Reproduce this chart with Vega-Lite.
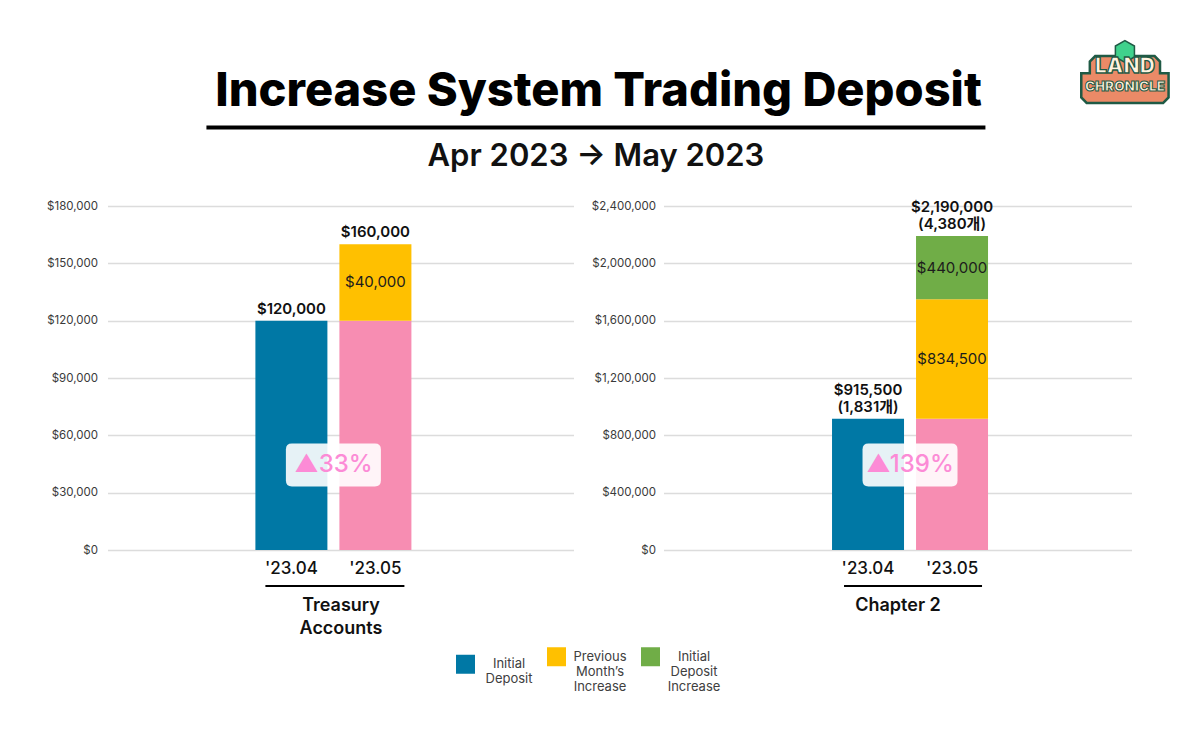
{
  "$schema": "https://vega.github.io/schema/vega-lite/v6.json",
  "background": "#ffffff",
  "padding": {"left": 46, "top": 37, "right": 10, "bottom": 10},
  "config": {
    "font": "Inter, 'Noto Sans CJK KR', sans-serif",
    "view": {"stroke": null},
    "axis": {"labelFont": "Inter, 'Noto Sans CJK KR', sans-serif", "titleFont": "Inter, sans-serif"},
    "legend": {"labelFont": "Inter, sans-serif"},
    "text": {"font": "Inter, 'Noto Sans CJK KR', sans-serif"}
  },
  "datasets": {
    "segments": [
      {"panel": "Treasury", "month": "'23.04", "part": "Initial Deposit", "rank": 1, "value": 120000},
      {"panel": "Treasury", "month": "'23.05", "part": "Carried Deposit", "rank": 1, "value": 120000},
      {"panel": "Treasury", "month": "'23.05", "part": "Previous Month’s Increase", "rank": 2, "value": 40000},
      {"panel": "Chapter 2", "month": "'23.04", "part": "Initial Deposit", "rank": 1, "value": 915500},
      {"panel": "Chapter 2", "month": "'23.05", "part": "Carried Deposit", "rank": 1, "value": 915500},
      {"panel": "Chapter 2", "month": "'23.05", "part": "Previous Month’s Increase", "rank": 2, "value": 834500},
      {"panel": "Chapter 2", "month": "'23.05", "part": "Initial Deposit Increase", "rank": 3, "value": 440000}
    ],
    "totals": [
      {"panel": "Treasury", "month": "'23.04", "total": 120000, "units": null},
      {"panel": "Treasury", "month": "'23.05", "total": 160000, "units": null},
      {"panel": "Chapter 2", "month": "'23.04", "total": 915500, "units": 1831},
      {"panel": "Chapter 2", "month": "'23.05", "total": 2190000, "units": 4380}
    ],
    "growth": [
      {"panel": "Treasury", "from": "'23.04", "to": "'23.05", "growth": 0.33},
      {"panel": "Chapter 2", "from": "'23.04", "to": "'23.05", "growth": 1.39}
    ]
  },
  "spacing": 29,
  "center": true,
  "vconcat": [
    {
      "width": 1104,
      "height": 1,
      "layer": [
        {
          "data": {"values": [{"edge": 0}]},
          "mark": {"type": "rule", "opacity": 0},
          "encoding": {
            "x": {
              "field": "edge", "type": "quantitative", "scale": {"domain": [0, 1], "range": [140.5, 919.5]},
              "axis": {"domain": true, "domainColor": "#000000", "domainWidth": 4, "labels": false, "ticks": false, "grid": false,
                       "title": "Apr 2023 → May 2023", "titleFontSize": 31, "titleFontWeight": 600, "titleColor": "#111111", "titlePadding": 14}
            }
          }
        },
        {
          "data": {"values": [{}]},
          "mark": {"type": "text", "text": "Increase System Trading Deposit", "fontSize": 47, "fontWeight": 800, "color": "#000000", "baseline": "alphabetic", "yOffset": -21},
          "encoding": {"x": {"datum": 0.504, "type": "quantitative"}}
        },
        {
          "data": {"values": [{}]},
          "mark": {"type": "point", "shape": "M-0.66,-0.52L0.66,-0.52L0.78,-0.4L0.78,-0.14L0.97,-0.14L0.97,0.4L0.85,0.52L-0.85,0.52L-0.97,0.4L-0.97,-0.14L-0.78,-0.14L-0.78,-0.4Z",
                   "size": 8100, "filled": true, "fill": "#eb8a67", "stroke": "#1f5a45", "strokeWidth": 2.5, "opacity": 1, "yOffset": -47},
          "encoding": {"x": {"datum": 1.1797, "type": "quantitative"}}
        },
        {
          "data": {"values": [{}]},
          "mark": {"type": "point", "shape": "M0,-1L0.87,-0.5L0.87,0.5L0,1L-0.87,0.5L-0.87,-0.5Z",
                   "size": 480, "filled": true, "fill": "#3fd18c", "stroke": "#1f5a45", "strokeWidth": 1.5, "opacity": 1, "yOffset": -75},
          "encoding": {"x": {"datum": 1.1797, "type": "quantitative"}}
        },
        {
          "data": {"values": [{}]},
          "mark": {"type": "text", "text": "LAND", "fontSize": 21, "fontWeight": 900, "fill": "#fff3e0", "stroke": "#1f5a45", "strokeWidth": 1.3, "baseline": "middle", "yOffset": -60},
          "encoding": {"x": {"datum": 1.1797, "type": "quantitative"}}
        },
        {
          "data": {"values": [{}]},
          "mark": {"type": "text", "text": "CHRONICLE", "fontSize": 13.5, "fontWeight": 900, "fill": "#fff3e0", "stroke": "#1f5a45", "strokeWidth": 1, "baseline": "middle", "yOffset": -39.5},
          "encoding": {"x": {"datum": 1.1797, "type": "quantitative"}}
        }
      ]
    },
    {
      "spacing": 17,
      "hconcat": [
        {
          "width": 466,
          "height": 344,
          "layer": [
            {
              "data": {"name": "segments"},
              "transform": [
                {"filter": "datum.panel === 'Treasury'"},
                {"stack": "value", "groupby": ["month"], "sort": [{"field": "rank", "order": "ascending"}], "as": ["v0", "v1"]}
              ],
              "mark": {"type": "bar"},
              "encoding": {
                "x": {
                  "field": "month", "type": "nominal", "sort": null,
                  "scale": {"domain": ["", "'23.04", "'23.05", " "], "paddingInner": 0.1429, "paddingOuter": 0.845, "align": 0.45},
                  "axis": {"title": ["Treasury", "Accounts"], "domain": false, "ticks": false, "labelAngle": 0, "labelFontSize": 17, "labelFontWeight": 500, "labelColor": "#111111", "labelPadding": 10,
                           "titleFontSize": 18, "titleFontWeight": 600, "titleColor": "#111111", "titlePadding": 20, "titleLineHeight": 23}
                },
                "y": {
                  "field": "v1", "type": "quantitative",
                  "scale": {"domain": [0, 180000], "nice": false},
                  "axis": {"title": null, "values": [0, 30000, 60000, 90000, 120000, 150000, 180000], "format": "$,.0f", "domain": false, "ticks": false,
                           "labelFontSize": 11.5, "labelColor": "#3a3a3a", "labelPadding": 10, "gridColor": "#dcdcdc", "gridWidth": 1.5}
                },
                "y2": {"field": "v0"},
                "color": {
                  "field": "part", "type": "nominal",
                  "scale": {"domain": ["Initial Deposit", "Previous Month’s Increase", "Initial Deposit Increase", "Carried Deposit"], "range": ["#0078a5", "#ffc000", "#70ad47", "#f78db2"]},
                  "legend": {"title": null, "orient": "none", "legendX": 391, "legendY": 521, "direction": "horizontal",
                             "values": ["Initial Deposit", "Previous Month’s Increase", "Initial Deposit Increase"],
                             "symbolType": "square", "symbolSize": 361, "symbolStrokeWidth": 0, "symbolOpacity": 1,
                             "labelExpr": "split(datum.label, ' ')", "labelAlign": "center", "labelOffset": 34, "labelFontSize": 13, "labelColor": "#404040", "labelLimit": 0, "columnPadding": 14}
                }
              }
            },
            {
              "data": {"name": "segments"},
              "transform": [
                {"filter": "datum.panel === 'Treasury'"},
                {"stack": "value", "groupby": ["month"], "sort": [{"field": "rank", "order": "ascending"}], "as": ["v0", "v1"]},
                {"filter": "datum.rank > 1"},
                {"calculate": "(datum.v0 + datum.v1) / 2", "as": "mid"}
              ],
              "mark": {"type": "text", "fontSize": 15, "color": "#1c1c1c", "baseline": "middle"},
              "encoding": {
                "x": {"field": "month", "type": "nominal"},
                "y": {"field": "mid", "type": "quantitative"},
                "text": {"field": "value", "type": "quantitative", "format": "$,.0f"}
              }
            },
            {
              "data": {"name": "totals"},
              "transform": [{"filter": "datum.panel === 'Treasury'"}],
              "mark": {"type": "text", "fontSize": 15, "fontWeight": 600, "color": "#111111", "baseline": "bottom", "dy": -4},
              "encoding": {
                "x": {"field": "month", "type": "nominal"},
                "y": {"field": "total", "type": "quantitative"},
                "text": {"field": "total", "type": "quantitative", "format": "$,.0f"}
              }
            },
            {
              "data": {"name": "growth"},
              "transform": [{"filter": "datum.panel === 'Treasury'"}],
              "mark": {"type": "rule", "color": "#000000", "strokeWidth": 2, "xOffset": -26, "x2Offset": 29, "yOffset": 36},
              "encoding": {
                "x": {"field": "from", "type": "nominal"},
                "x2": {"field": "to"},
                "y": {"datum": 0}
              }
            },
            {
              "data": {"name": "growth"},
              "transform": [{"filter": "datum.panel === 'Treasury'"}],
              "mark": {"type": "point", "shape": "M-0.874,-0.453L0.874,-0.453Q1,-0.453 1,-0.327L1,0.327Q1,0.453 0.874,0.453L-0.874,0.453Q-1,0.453 -1,0.327L-1,-0.327Q-1,-0.453 -0.874,-0.453Z",
                       "size": 9025, "filled": true, "fill": "#ffffff", "opacity": 1, "fillOpacity": 0.9, "strokeWidth": 0, "xOffset": 42, "yOffset": -85},
              "encoding": {
                "x": {"field": "from", "type": "nominal"},
                "y": {"datum": 0}
              }
            },
            {
              "data": {"name": "growth"},
              "transform": [
                {"filter": "datum.panel === 'Treasury'"},
                {"calculate": "'▲' + format(datum.growth, '.0%')", "as": "badge"}
              ],
              "mark": {"type": "text", "fontSize": 24, "fontWeight": 500, "color": "#fc8bd6", "baseline": "middle", "xOffset": 42, "yOffset": -85},
              "encoding": {
                "x": {"field": "from", "type": "nominal"},
                "y": {"datum": 0},
                "text": {"field": "badge"}
              }
            }
          ]
        },
        {
          "width": 468,
          "height": 344,
          "layer": [
            {
              "data": {"name": "segments"},
              "transform": [
                {"filter": "datum.panel === 'Chapter 2'"},
                {"stack": "value", "groupby": ["month"], "sort": [{"field": "rank", "order": "ascending"}], "as": ["v0", "v1"]}
              ],
              "mark": {"type": "bar"},
              "encoding": {
                "x": {
                  "field": "month", "type": "nominal", "sort": null,
                  "scale": {"domain": ["", "'23.04", "'23.05", " "], "paddingInner": 0.1429, "paddingOuter": 0.857, "align": 0.587},
                  "axis": {"title": "Chapter 2", "domain": false, "ticks": false, "labelAngle": 0, "labelFontSize": 17, "labelFontWeight": 500, "labelColor": "#111111", "labelPadding": 10,
                           "titleFontSize": 18, "titleFontWeight": 600, "titleColor": "#111111", "titlePadding": 20, "titleLineHeight": 23}
                },
                "y": {
                  "field": "v1", "type": "quantitative",
                  "scale": {"domain": [0, 2400000], "nice": false},
                  "axis": {"title": null, "values": [0, 400000, 800000, 1200000, 1600000, 2000000, 2400000], "format": "$,.0f", "domain": false, "ticks": false,
                           "labelFontSize": 11.5, "labelColor": "#3a3a3a", "labelPadding": 8, "gridColor": "#dcdcdc", "gridWidth": 1.5}
                },
                "y2": {"field": "v0"},
                "color": {
                  "field": "part", "type": "nominal",
                  "scale": {"domain": ["Initial Deposit", "Previous Month’s Increase", "Initial Deposit Increase", "Carried Deposit"], "range": ["#0078a5", "#ffc000", "#70ad47", "#f78db2"]},
                  "legend": {"title": null, "orient": "none", "legendX": 391, "legendY": 521, "direction": "horizontal",
                             "values": ["Initial Deposit", "Previous Month’s Increase", "Initial Deposit Increase"],
                             "symbolType": "square", "symbolSize": 361, "symbolStrokeWidth": 0, "symbolOpacity": 1,
                             "labelExpr": "split(datum.label, ' ')", "labelAlign": "center", "labelOffset": 34, "labelFontSize": 13, "labelColor": "#404040", "labelLimit": 0, "columnPadding": 14}
                }
              }
            },
            {
              "data": {"name": "segments"},
              "transform": [
                {"filter": "datum.panel === 'Chapter 2'"},
                {"stack": "value", "groupby": ["month"], "sort": [{"field": "rank", "order": "ascending"}], "as": ["v0", "v1"]},
                {"filter": "datum.rank > 1"},
                {"calculate": "(datum.v0 + datum.v1) / 2", "as": "mid"}
              ],
              "mark": {"type": "text", "fontSize": 15, "color": "#1c1c1c", "baseline": "middle"},
              "encoding": {
                "x": {"field": "month", "type": "nominal"},
                "y": {"field": "mid", "type": "quantitative"},
                "text": {"field": "value", "type": "quantitative", "format": "$,.0f"}
              }
            },
            {
              "data": {"name": "totals"},
              "transform": [{"filter": "datum.panel === 'Chapter 2'"}],
              "mark": {"type": "text", "fontSize": 15, "fontWeight": 600, "color": "#111111", "baseline": "bottom", "dy": -21},
              "encoding": {
                "x": {"field": "month", "type": "nominal"},
                "y": {"field": "total", "type": "quantitative"},
                "text": {"field": "total", "type": "quantitative", "format": "$,.0f"}
              }
            },
            {
              "data": {"name": "totals"},
              "transform": [
                {"filter": "datum.panel === 'Chapter 2'"},
                {"calculate": "'(' + format(datum.units, ',') + '개)'", "as": "unitLabel"}
              ],
              "mark": {"type": "text", "fontSize": 15, "fontWeight": 600, "color": "#111111", "baseline": "bottom", "dy": -4},
              "encoding": {
                "x": {"field": "month", "type": "nominal"},
                "y": {"field": "total", "type": "quantitative"},
                "text": {"field": "unitLabel"}
              }
            },
            {
              "data": {"name": "growth"},
              "transform": [{"filter": "datum.panel === 'Chapter 2'"}],
              "mark": {"type": "rule", "color": "#000000", "strokeWidth": 2, "xOffset": -24, "x2Offset": 30, "yOffset": 36},
              "encoding": {
                "x": {"field": "from", "type": "nominal"},
                "x2": {"field": "to"},
                "y": {"datum": 0}
              }
            },
            {
              "data": {"name": "growth"},
              "transform": [{"filter": "datum.panel === 'Chapter 2'"}],
              "mark": {"type": "point", "shape": "M-0.874,-0.453L0.874,-0.453Q1,-0.453 1,-0.327L1,0.327Q1,0.453 0.874,0.453L-0.874,0.453Q-1,0.453 -1,0.327L-1,-0.327Q-1,-0.453 -0.874,-0.453Z",
                       "size": 9025, "filled": true, "fill": "#ffffff", "opacity": 1, "fillOpacity": 0.9, "strokeWidth": 0, "xOffset": 42, "yOffset": -85},
              "encoding": {
                "x": {"field": "from", "type": "nominal"},
                "y": {"datum": 0}
              }
            },
            {
              "data": {"name": "growth"},
              "transform": [
                {"filter": "datum.panel === 'Chapter 2'"},
                {"calculate": "'▲' + format(datum.growth, '.0%')", "as": "badge"}
              ],
              "mark": {"type": "text", "fontSize": 24, "fontWeight": 500, "color": "#fc8bd6", "baseline": "middle", "xOffset": 42, "yOffset": -85},
              "encoding": {
                "x": {"field": "from", "type": "nominal"},
                "y": {"datum": 0},
                "text": {"field": "badge"}
              }
            }
          ]
        }
      ]
    }
  ]
}
